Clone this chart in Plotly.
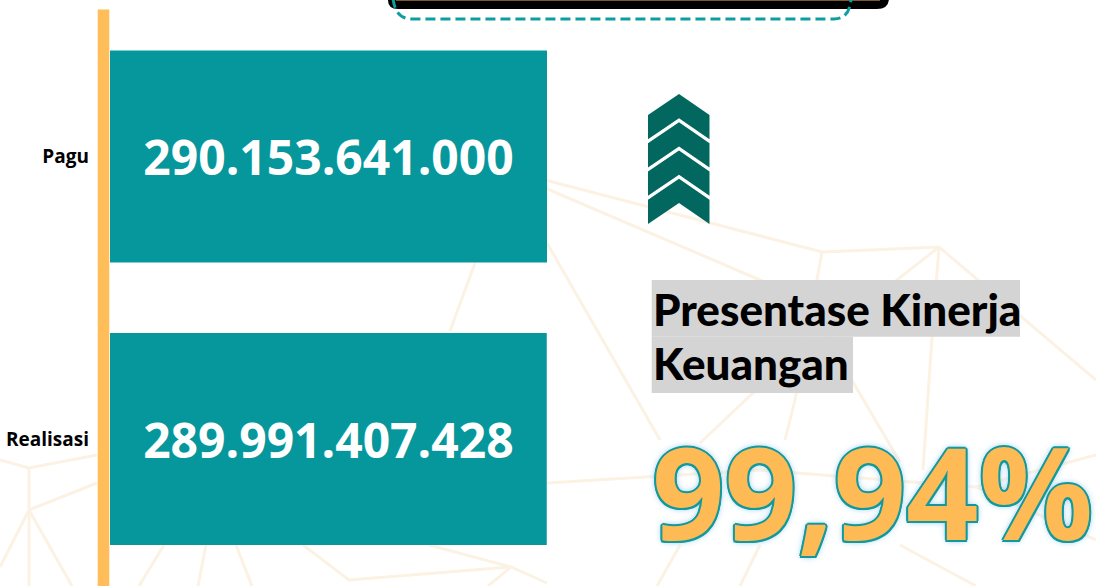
import plotly.graph_objects as go

# ---------------- data ----------------
categories = ["Pagu", "Realisasi"]
values = [290153641000, 289991407428]
heading_lines = ["Presentase Kinerja", "Keuangan"]

# ---------------- styling ----------------
W, H = 1096, 586
BAR = "#06979D"
AXIS_YELLOW = "#FFBE5A"
CHEVRON = "#02675F"
ORANGE = "#FDBA55"
TEAL = "#11999C"
NET = "#FCF2E4"
GREY = "#D4D4D4"


def X(px):
    return px / W


def Y(py):
    return 1 - py / H


def path(points, close=True):
    s = "M " + " L ".join(f"{X(a):.5f},{Y(b):.5f}" for a, b in points)
    return s + (" Z" if close else "")


pagu = values[0]
x_max = pagu * (W - 110) / 437.0
pct = values[1] / values[0] * 100
pct_text = f"{pct:.2f}".replace(".", ",") + "%"

fig = go.Figure(
    go.Bar(
        y=categories,
        x=values,
        orientation="h",
        width=0.75,
        marker=dict(color=BAR, line=dict(width=0)),
        texttemplate="%{x:,.0f}",
        textposition="inside",
        insidetextanchor="middle",
        textangle=0,
        textfont=dict(family="Open Sans", size=48, color="white", weight="bold"),
        hoverinfo="skip",
    )
)

shapes = []

# faint background network
net_lines = [
    [(545, 180), (822, 252), (939, 247), (1096, 380)],
    [(545, 188), (760, 280), (860, 322)],
    [(939, 247), (753, 393), (700, 443)],
    [(939, 247), (932, 337), (923, 470)],
    [(822, 252), (795, 400), (785, 440)],
    [(840, 360), (900, 462)],
    [(547, 243), (660, 440)],
    [(547, 483), (760, 470), (976, 487), (1096, 455)],
    [(976, 487), (1096, 540)],
    [(680, 545), (657, 586)],
    [(760, 545), (740, 586)],
    [(900, 545), (976, 586)],
    [(475, 263), (450, 331)],
    [(0, 460), (29, 468), (97, 455)],
    [(29, 468), (29, 510), (97, 483)],
    [(29, 510), (0, 567)],
    [(29, 510), (72, 586)],
    [(29, 510), (29, 586)],
    [(164, 545), (139, 586)],
    [(206, 545), (198, 586)],
    [(236, 545), (252, 586)],
    [(303, 545), (349, 580), (511, 567), (547, 583)],
    [(429, 545), (511, 567), (488, 586)],
]
for pts in net_lines:
    shapes.append(dict(type="path", xref="paper", yref="paper", layer="below",
                       path=path(pts, close=False),
                       line=dict(color=NET, width=3)))

# yellow axis bar
shapes.append(dict(type="rect", xref="paper", yref="paper", layer="above",
                   x0=X(97.7), x1=X(109.3), y0=Y(9.6), y1=Y(590),
                   fillcolor=AXIS_YELLOW, line=dict(width=0)))

# black header box (cut by the top edge)
shapes.append(dict(type="path", xref="paper", yref="paper", layer="above",
                   path=(f"M {X(388):.5f},{Y(-10):.5f} L {X(388):.5f},{Y(0):.5f} "
                         f"Q {X(388):.5f},{Y(9):.5f} {X(398):.5f},{Y(9):.5f} "
                         f"L {X(877):.5f},{Y(9):.5f} Q {X(889):.5f},{Y(9):.5f} {X(889):.5f},{Y(-2):.5f} "
                         f"L {X(889):.5f},{Y(-10):.5f} Z"),
                   fillcolor="black", line=dict(width=0)))
shapes.append(dict(type="line", xref="paper", yref="paper", layer="above",
                   x0=X(396), x1=X(880), y0=Y(0.5), y1=Y(0.5),
                   line=dict(color="#7A5A2A", width=1)))
# dashed teal outline
shapes.append(dict(type="path", xref="paper", yref="paper", layer="above",
                   path=(f"M {X(393):.5f},{Y(-2):.5f} Q {X(395):.5f},{Y(19):.5f} {X(412):.5f},{Y(19):.5f} "
                         f"L {X(834):.5f},{Y(19):.5f} Q {X(850):.5f},{Y(19):.5f} {X(851):.5f},{Y(-2):.5f}"),
                   line=dict(color="#0E9EA0", width=3, dash="10px,5px")))

# chevrons
for i in range(4):
    t = 94 + i * 28.25
    b = t + 24.25
    shapes.append(dict(type="path", xref="paper", yref="paper", layer="above",
                       path=path([(648, t + 21), (679, t), (709.5, t + 21),
                                  (709.5, b + 21), (679, b), (648, b + 21)]),
                       fillcolor=CHEVRON, line=dict(width=0)))

# grey highlight behind heading lines
shapes.append(dict(type="rect", xref="paper", yref="paper", layer="above",
                   x0=X(651.7), x1=X(1020), y0=Y(336.7), y1=Y(280),
                   fillcolor=GREY, line=dict(width=0)))
shapes.append(dict(type="rect", xref="paper", yref="paper", layer="above",
                   x0=X(651.7), x1=X(853), y0=Y(393), y1=Y(336.7),
                   fillcolor=GREY, line=dict(width=0)))

annotations = [
    dict(text=heading_lines[0], xref="paper", yref="paper", x=X(651), y=Y(309),
         xanchor="left", yanchor="middle", showarrow=False,
         font=dict(family="Lato", size=44, color="black", weight=900)),
    dict(text=heading_lines[1], xref="paper", yref="paper", x=X(651), y=Y(363),
         xanchor="left", yanchor="middle", showarrow=False,
         font=dict(family="Lato", size=44, color="black", weight=900)),
    dict(text=pct_text, xref="paper", yref="paper", x=X(650), y=Y(490),
         xanchor="left", yanchor="middle", showarrow=False,
         font=dict(family="Open Sans", size=127, color=ORANGE, weight="bold",
                   shadow=("2px 0 0 #11999C, -2px 0 0 #11999C, 0 2px 0 #11999C, 0 -2px 0 #11999C, "
                           "1.5px 1.5px 0 #11999C, -1.5px -1.5px 0 #11999C, 1.5px -1.5px 0 #11999C, "
                           "-1.5px 1.5px 0 #11999C, 0 0 5px #8FC3E6, 0 0 8px #A9D2EE"))),
]

fig.update_layout(
    width=W,
    height=H,
    margin=dict(l=0, r=0, t=0, b=0),
    paper_bgcolor="white",
    plot_bgcolor="rgba(0,0,0,0)",
    separators=",.",
    showlegend=False,
    shapes=shapes,
    annotations=annotations,
    xaxis=dict(domain=[110 / W, 1], range=[0, x_max], visible=False, fixedrange=True),
    yaxis=dict(
        domain=[0, 1],
        type="category",
        categoryorder="array",
        categoryarray=categories,
        range=[1.52, -0.554],
        tickvals=categories,
        ticktext=[f"<b>{c}</b>" for c in categories],
        tickfont=dict(family="Open Sans", size=19, color="black"),
        ticks="",
        ticklabelstandoff=20,
        showgrid=False,
        zeroline=False,
        showline=False,
        automargin=False,
        fixedrange=True,
    ),
)

fig.write_html("out.html", config={"displayModeBar": False},
               post_script="document.body.style.margin='0';")
